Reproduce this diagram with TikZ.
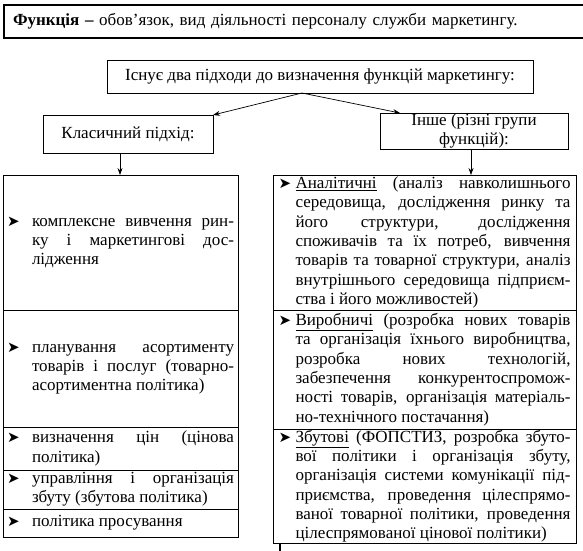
\documentclass[tikz,border=0pt]{standalone}
\usepackage{fontspec}
\setmainfont{Liberation Serif}
\newfontfamily\symfont{DejaVu Sans}
\usetikzlibrary{arrows.meta,positioning}
\tolerance=10000
\hbadness=10000

\newcommand{\itm}[2]{\hangindent=#1\hangafter=1\noindent\makebox[#1][l]{\symfont\fontsize{15}{15}\selectfont ➤}#2\par}

\begin{document}
\begin{tikzpicture}[x=1pt,y=-1pt,
  font=\fontsize{17}{19.3}\selectfont,
  box/.style={draw,line width=0.9pt,inner sep=0pt,outer sep=0pt,align=center},
  cell/.style={draw,line width=0.9pt,outer sep=0pt,inner ysep=1pt,align=justify},
  lcell/.style={cell,text width=227pt,inner xsep=4pt},
  rcell/.style={cell,text width=292pt,inner xsep=5.5pt},
  arr/.style={-{Stealth[length=7pt,width=5pt]},line width=0.7pt}]
\useasboundingbox (0,0) rectangle (583,550);

\node[draw,line width=1.5pt,outer sep=0pt,anchor=north west,text width=580pt,
  inner xsep=9pt,inner ysep=0pt,minimum height=33pt,align=left] (def) at (4,5)
  {\textbf{Функція –} обов’язок, вид діяльності персоналу служби маркетингу.};

\node[box,minimum width=426pt,minimum height=33pt] (ex) at (320,76.5)
  {Існує два підходи до визначення функцій маркетингу:};
\node[box,minimum width=170pt,minimum height=38pt] (kl) at (128,134) {Класичний підхід:};
\node[box,minimum width=188pt,minimum height=36pt] (in) at (474,131) {Інше (різні групи\\функцій):};

% left column
\node[lcell,minimum height=135pt,anchor=north west] (c1) at (3,175)
  {\itm{25pt}{комплексне вивчення рин-\linebreak ку і маркетингові дос-\linebreak лідження}};
\node[lcell,minimum height=117pt,below=0pt of c1] (c2)
  {\itm{25pt}{планування асортименту\linebreak товарів і послуг (товарно-\linebreak асортиментна політика)}};
\node[lcell,minimum height=43pt,below=0pt of c2] (c3)
  {\itm{25pt}{визначення цін (цінова\linebreak політика)}};
\node[lcell,minimum height=39pt,below=0pt of c3] (c4)
  {\itm{25pt}{управління і організація\linebreak збуту (збутова політика)}};
\node[lcell,minimum height=28pt,below=0pt of c4] (c5)
  {\itm{25pt}{політика просування}};

% right column
\node[rcell,minimum height=135pt,anchor=north west] (r1) at (273,175)
  {\itm{17pt}{\underline{Аналітичні} (аналіз навколишнього\linebreak середовища, дослідження ринку та\linebreak
   його структури, дослідження\linebreak споживачів та їх потреб, вивчення\linebreak
   товарів та товарної структури, аналіз\linebreak внутрішнього середовища підприєм-\linebreak
   ства і його можливостей)}};
\node[rcell,minimum height=119pt,below=0pt of r1] (r2)
  {\itm{17pt}{\underline{Виробничі} (розробка нових товарів\linebreak та організація їхнього виробництва,\linebreak
   розробка нових технологій,\linebreak забезпечення конкурентоспромож-\linebreak
   ності товарів, організація матеріаль-\linebreak но-технічного постачання)}};
\node[rcell,minimum height=110pt,below=0pt of r2] (r3)
  {\itm{17pt}{\underline{Збутові} (ФОПСТИЗ, розробка збуто-\linebreak вої політики і організація збуту,\linebreak
   організація системи комунікації під-\linebreak приємства, проведення цілеспрямо-\linebreak
   ваної товарної політики, проведення\linebreak цілеспрямованої цінової політики)}};

\coordinate (pgend) at (280,552);

\draw[arr] ([xshift=-18pt]ex.south) -- (kl.north east);
\draw[arr] ([xshift=-18pt]ex.south) -- ([xshift=20pt]in.north west);
\draw[arr] ([xshift=-8pt]kl.south) -- ([xshift=-8pt]kl.south |- c1.north);
\draw[arr] ([xshift=-3pt]in.south) -- ([xshift=-3pt]in.south |- r1.north);
\draw[line width=1.5pt] (pgend |- r3.south) -- (pgend);
\end{tikzpicture}
\end{document}
